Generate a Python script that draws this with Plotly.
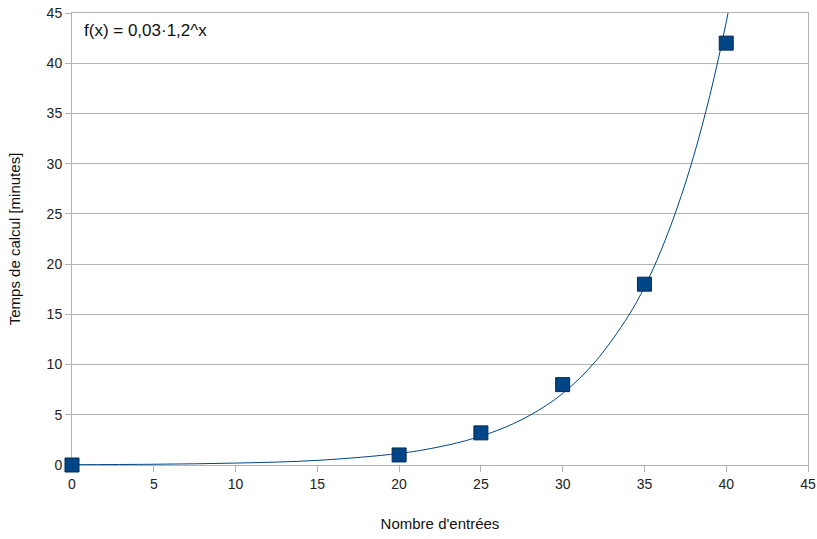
import plotly.graph_objects as go

# Measured data points
entries = [0, 20, 25, 30, 35, 40]
minutes = [0, 1.0, 3.2, 8.0, 18.0, 42.0]

# Trend line, values
trend_x = [0, 5, 10, 15, 20, 22, 24, 26, 28, 30, 32, 34, 35, 36, 37, 38, 39, 40, 41]
trend_y = [0.03, 0.075, 0.19, 0.46, 1.15, 1.66, 2.39, 3.44, 4.95, 7.12, 10.3, 14.8,
           17.7, 21.3, 25.6, 30.7, 36.8, 44.1, 53.0]

tick_vals = [0, 5, 10, 15, 20, 25, 30, 35, 40, 45]
label_text = "f(x) = 0,03·1,2^x"

grid = "#b3b3b3"
blue = "#004586"
fam = "Liberation Sans, Arial, sans-serif"

fig = go.Figure()
fig.add_trace(go.Scatter(x=trend_x, y=trend_y, mode="lines", line=dict(color=blue, width=1, shape="spline"),
                         hoverinfo="skip", showlegend=False))
fig.add_trace(go.Scatter(x=entries, y=minutes, mode="markers",
                         marker=dict(symbol="square", size=14, color=blue, line=dict(color="#002a55", width=1)),
                         showlegend=False, cliponaxis=False))

fig.add_annotation(text=label_text, xref="paper", yref="paper", x=0.014, y=0.962, xanchor="left", yanchor="middle",
                   showarrow=False, font=dict(size=17, color="#111", family=fam))

axis_font = dict(family=fam, size=14, color="#222")
fig.update_xaxes(range=[0, 45], tickvals=tick_vals, showgrid=False, zeroline=False, automargin=False,
                 showline=True, linecolor=grid, linewidth=1, mirror=True, ticklabeloverflow="allow",
                 layer="below traces",
                 ticks="outside", ticklen=6, tickcolor=grid, tickfont=axis_font,
                 title=dict(text="Nombre d'entrées", font=dict(family=fam, size=15, color="#111"), standoff=27))
fig.update_yaxes(range=[0, 45], tickvals=tick_vals, showgrid=True, gridcolor=grid, gridwidth=1, zeroline=False,
                 automargin=False, ticklabeloverflow="allow", layer="below traces",
                 showline=True, linecolor=grid, linewidth=1, mirror=True,
                 ticks="outside", ticklen=6, tickcolor=grid, tickfont=axis_font,
                 title=dict(text="Temps de calcul [minutes]", font=dict(family=fam, size=15, color="#111"), standoff=22))

fig.update_layout(width=817, height=539, margin=dict(l=72, r=9, t=13, b=74, autoexpand=False),
                  plot_bgcolor="white", paper_bgcolor="white",
                  font=dict(family=fam))

# remove the page's default body margin so the figure fills the window exactly
fig.write_html("out.html", config={"displayModeBar": False},
               post_script="document.body.style.margin='0';document.body.style.overflow='hidden';")
